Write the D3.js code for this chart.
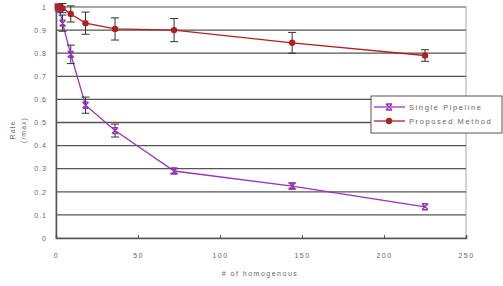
<!DOCTYPE html>
<html>
<head>
<meta charset="utf-8">
<script src="https://cdn.jsdelivr.net/npm/d3@7"></script>
<style>
  body { margin: 0; background: #fff; }
  text { font-family: "Liberation Sans", Arial, sans-serif; fill: #666; }
</style>
</head>
<body>
<div id="chart"></div>
<script>
// data
var xValues = [1, 2, 4, 9, 18, 36, 72, 144, 225];
var singleRate = [1.0, 0.99, 0.93, 0.795, 0.575, 0.465, 0.29, 0.225, 0.135];
var singleErr = [0.005, 0.01, 0.035, 0.04, 0.035, 0.028, 0.012, 0.013, 0.006];
var proposedRate = [1.0, 1.0, 0.995, 0.97, 0.93, 0.905, 0.9, 0.845, 0.79];
var proposedErr = [0.005, 0.01, 0.02, 0.035, 0.048, 0.048, 0.05, 0.045, 0.025];
var xTicks = [0, 50, 100, 150, 200, 250];
var yTicks = [0, 0.1, 0.2, 0.3, 0.4, 0.5, 0.6, 0.7, 0.8, 0.9, 1];
var seriesNames = ["Single Pipeline", "Proposed Method"];

var width = 503, height = 286;
var margin = { left: 56, right: 37, top: 7, bottom: 48 };

var svg = d3.select("#chart").append("svg")
    .attr("width", width)
    .attr("height", height);

var x = d3.scaleLinear().domain([0, 250]).range([margin.left, width - margin.right]);
var y = d3.scaleLinear().domain([0, 1]).range([height - margin.bottom, margin.top]);

// plot area border
svg.append("rect")
    .attr("x", x(0)).attr("y", y(1))
    .attr("width", x(250) - x(0)).attr("height", y(0) - y(1))
    .attr("fill", "none").attr("stroke", "#aaa").attr("stroke-width", 1);

// gridlines
svg.append("g").selectAll("line")
    .data(yTicks.filter(d => d > 0))
    .enter().append("line")
    .attr("x1", x(0)).attr("x2", x(250))
    .attr("y1", d => y(d)).attr("y2", d => y(d))
    .attr("stroke", d => d === 1 ? "#999" : "#555")
    .attr("stroke-width", 1.3);

// axes
var xAxis = d3.axisBottom(x).tickValues(xTicks).tickSize(-3).tickPadding(15).tickFormat(d3.format("d"));
var gx = svg.append("g").attr("transform", "translate(0," + y(0) + ")").call(xAxis);
gx.select(".domain").attr("stroke", "#555").attr("stroke-width", 1.5);
gx.selectAll(".tick line").attr("stroke", "#555");
gx.selectAll("text").attr("font-size", 7).attr("letter-spacing", 1.4).attr("fill", "#666");

var yAxis = d3.axisLeft(y).tickValues(yTicks).tickSize(0).tickPadding(9).tickFormat(d => d === 0 || d === 1 ? d : d3.format(".1f")(d));
var gy = svg.append("g").attr("transform", "translate(" + x(0) + ",0)").call(yAxis);
gy.select(".domain").attr("stroke", "#555").attr("stroke-width", 1.5);
gy.selectAll("text").attr("font-size", 7).attr("letter-spacing", 1).attr("fill", "#666");

// axis titles
svg.append("text")
    .attr("x", 260).attr("y", 276)
    .attr("text-anchor", "middle").attr("font-size", 7).attr("letter-spacing", 1.5)
    .text("# of homogenous");
svg.append("text")
    .attr("transform", "translate(15,130) rotate(-90)")
    .attr("text-anchor", "middle").attr("font-size", 7).attr("letter-spacing", 1)
    .text("Rate");
svg.append("text")
    .attr("transform", "translate(26,130) rotate(-90)")
    .attr("text-anchor", "middle").attr("font-size", 7).attr("letter-spacing", 1)
    .text("(/max)");

var line = d3.line().x(d => x(d[0])).y(d => y(d[1]));

function drawSeries(rates, errs, color, marker) {
    var pts = xValues.map((v, i) => [v, rates[i], errs[i]]);
    var g = svg.append("g");
    g.append("path").datum(pts)
        .attr("d", line)
        .attr("fill", "none").attr("stroke", color).attr("stroke-width", 1.3);

    // error bars
    var eb = g.selectAll(".eb").data(pts.filter(d => d[2] > 0.008)).enter().append("g");
    eb.append("line")
        .attr("x1", d => x(d[0])).attr("x2", d => x(d[0]))
        .attr("y1", d => y(d[1] - d[2])).attr("y2", d => y(d[1] + d[2]))
        .attr("stroke", "#333").attr("stroke-width", 1);
    [-1, 1].forEach(s => {
        eb.append("line")
            .attr("x1", d => x(d[0]) - 4).attr("x2", d => x(d[0]) + 4)
            .attr("y1", d => y(d[1] + s * d[2])).attr("y2", d => y(d[1] + s * d[2]))
            .attr("stroke", "#333").attr("stroke-width", 1);
    });

    var m = g.selectAll(".m").data(pts).enter().append("g")
        .attr("transform", d => "translate(" + x(d[0]) + "," + y(d[1]) + ")");
    drawMarker(m, marker, color);
}

function drawMarker(sel, marker, color) {
    if (marker === "x") {
        sel.append("path").attr("d", "M-3,-3L3,3M-3,3L3,-3M-3,-3H3M-3,3H3")
            .attr("stroke", color).attr("stroke-width", 1.4).attr("fill", "none");
    } else {
        sel.append("circle").attr("r", 3.2).attr("fill", color);
    }
}

drawSeries(singleRate, singleErr, "#9933bb", "x");
drawSeries(proposedRate, proposedErr, "#b02020", "o");

// legend
var legend = svg.append("g").attr("transform", "translate(371,96)");
legend.append("rect")
    .attr("width", 131).attr("height", 37)
    .attr("fill", "#fff").attr("stroke", "#555").attr("stroke-width", 1);
var colors = ["#9933bb", "#b02020"];
var markers = ["x", "o"];
seriesNames.forEach((name, i) => {
    var row = legend.append("g").attr("transform", "translate(0," + (11 + i * 14) + ")");
    row.append("line").attr("x1", 3).attr("x2", 34)
        .attr("stroke", colors[i]).attr("stroke-width", 1.3);
    var mk = row.append("g").attr("transform", "translate(18,0)");
    drawMarker(mk, markers[i], colors[i]);
    row.append("text").attr("x", 38).attr("y", 3)
        .attr("font-size", 7.5).attr("letter-spacing", 1.6).attr("fill", "#444")
        .text(name);
});
</script>
</body>
</html>
